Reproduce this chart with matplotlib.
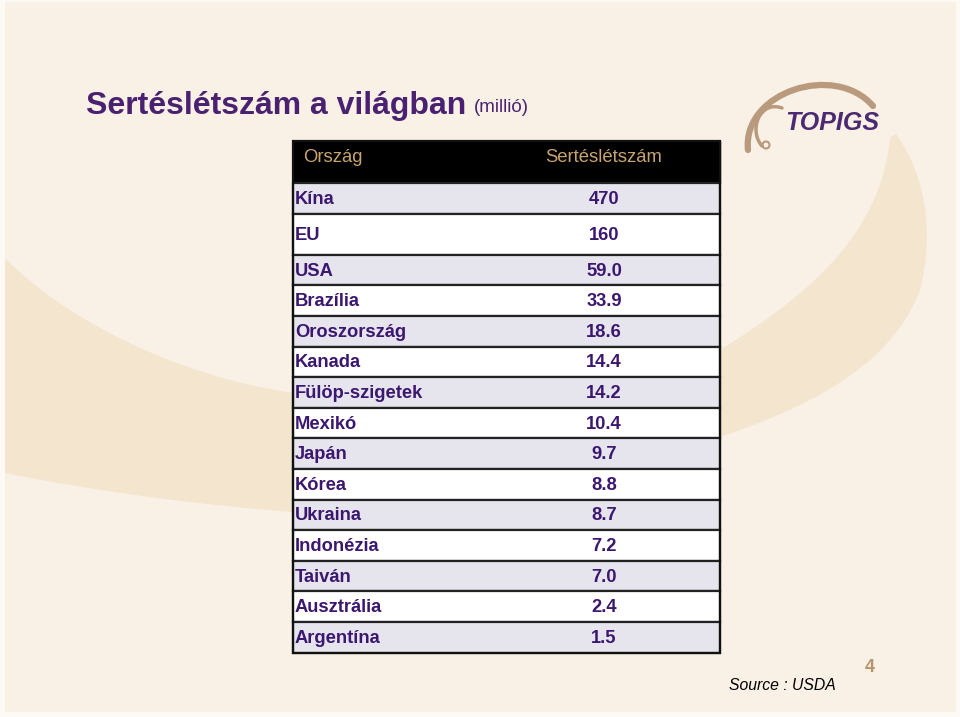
import matplotlib
matplotlib.use("Agg")
import matplotlib.pyplot as plt
import matplotlib.transforms as mtransforms
from matplotlib.patches import Rectangle, PathPatch, Circle
from matplotlib.path import Path

# ---------------- data ----------------
title = "Sertéslétszám a világban"
subtitle = "(millió)"
col_headers = ["Ország", "Sertéslétszám"]
countries = ["Kína", "EU", "USA", "Brazília", "Oroszország", "Kanada",
             "Fülöp-szigetek", "Mexikó", "Japán", "Kórea", "Ukraina",
             "Indonézia", "Taiván", "Ausztrália", "Argentína"]
pigs_million = [470, 160, 59.0, 33.9, 18.6, 14.4, 14.2, 10.4, 9.7, 8.8,
                8.7, 7.2, 7.0, 2.4, 1.5]
source_note = "Source : USDA"
page_number = "4"
logo_text = "TOPIGS"

# ---------------- style ----------------
FONT = "Liberation Sans"
PURPLE = "#3b1770"
TITLE_PURPLE = "#4a2170"
TAN = "#c9a56e"
BG = "#f9f0e6"
EDGE_BG = "#fdfaf5"
BAND = "#f4e5cf"
LAV = "#e6e4ed"

fig = plt.figure(figsize=(9.6, 7.17), dpi=100)
fig.patch.set_facecolor(EDGE_BG)
ax = fig.add_axes([0, 0, 1, 1])
ax.set_xlim(0, 960)
ax.set_ylim(717, 0)
ax.axis("off")

# slide background
ax.add_patch(Rectangle((5, 2), 951, 710, facecolor=BG, edgecolor="none", zorder=0))

# decorative band (swoosh)
verts = [
    (5, 258),
    (60, 315), (170, 375), (293, 393),
    (450, 420), (600, 410), (720, 350),
    (800, 300), (880, 240), (890, 138),
    (892, 136), (894, 135), (896, 134),
    (925, 175), (935, 230), (920, 290),
    (890, 370), (800, 410), (720, 437),
    (600, 500), (450, 515), (293, 512),
    (200, 505), (100, 492), (5, 473),
    (5, 258),
]
codes = [Path.MOVETO] + [Path.CURVE4] * 24 + [Path.CLOSEPOLY]
ax.add_patch(PathPatch(Path(verts, codes), facecolor=BAND, edgecolor="none", zorder=1))

# logo swooshes
LOGO_TAN = "#b99a7c"
arc1 = Path([(748, 150), (742, 92), (835, 62), (873, 106)],
            [Path.MOVETO, Path.CURVE4, Path.CURVE4, Path.CURVE4])
ax.add_patch(PathPatch(arc1, facecolor="none", edgecolor=LOGO_TAN, lw=4.5,
                       capstyle="round", zorder=3))
arc2 = Path([(782, 108), (760, 100), (748, 130), (762, 146)],
            [Path.MOVETO, Path.CURVE4, Path.CURVE4, Path.CURVE4])
ax.add_patch(PathPatch(arc2, facecolor="none", edgecolor=LOGO_TAN, lw=2.5,
                       capstyle="round", zorder=3))
ax.add_patch(Circle((766, 145), 3.5, facecolor="none",
                    edgecolor=LOGO_TAN, lw=1.5, zorder=3))
ax.text(785, 123, logo_text, fontsize=18, fontweight="bold", style="italic",
        family=FONT, color="#4b2a72", va="center", ha="left", zorder=4)

# title
t = ax.text(86, 106, title, fontsize=23, fontweight="bold", family=FONT,
            color=TITLE_PURPLE, va="center", ha="left", zorder=4)
fig.canvas.draw()
bb = t.get_window_extent()
ax.text(bb.x1 + 8, 108, subtitle, fontsize=13.5, family=FONT, color=TITLE_PURPLE,
        va="center", ha="left", zorder=4,
        transform=mtransforms.blended_transform_factory(
            mtransforms.IdentityTransform(), ax.transData))

# ---------------- table ----------------
x_left, x_right = 293, 720
header_top, header_bottom = 141, 183
x_val = 604
row_h = 30.6
first_rows = [(183, 213.5), (213.5, 254.8)]

ax.add_patch(Rectangle((x_left, header_top), x_right - x_left,
                       header_bottom - header_top, facecolor="black",
                       edgecolor="black", lw=1, zorder=5))
ax.text(303, 157, col_headers[0], fontsize=13.3, family=FONT, color=TAN,
        va="center", ha="left", zorder=6)
ax.text(x_val, 157, col_headers[1], fontsize=13.3, family=FONT, color=TAN,
        va="center", ha="center", zorder=6)

y = header_bottom
for i, (name, val) in enumerate(zip(countries, pigs_million)):
    if i < len(first_rows):
        y0, y1 = first_rows[i]
    else:
        y0 = y
        y1 = y0 + row_h
    y = y1
    color = LAV if i % 2 == 0 else "white"
    ax.add_patch(Rectangle((x_left, y0), x_right - x_left, y1 - y0,
                           facecolor=color, edgecolor="#222222", lw=1.6, zorder=5))
    label = f"{val:.0f}" if val >= 100 else f"{val:.1f}"
    yc = (y0 + y1) / 2 + 1
    ax.text(295, yc, name, fontsize=13.2, fontweight="bold", family=FONT,
            color=PURPLE, va="center", ha="left", zorder=6)
    ax.text(x_val, yc, label, fontsize=13.2, fontweight="bold", family=FONT,
            color=PURPLE, va="center", ha="center", zorder=6)

# outer border
ax.add_patch(Rectangle((x_left, header_top), x_right - x_left, y - header_top,
                       facecolor="none", edgecolor="#111111", lw=1.6, zorder=7))

# footer
ax.text(729, 686, source_note, fontsize=11.3, style="italic", family=FONT,
        color="black", va="center", ha="left", zorder=4)
ax.text(870, 668, page_number, fontsize=13, fontweight="bold", family=FONT,
        color="#b4956c", va="center", ha="center", zorder=4)

fig.savefig("out.png", dpi=100, facecolor=fig.get_facecolor())
